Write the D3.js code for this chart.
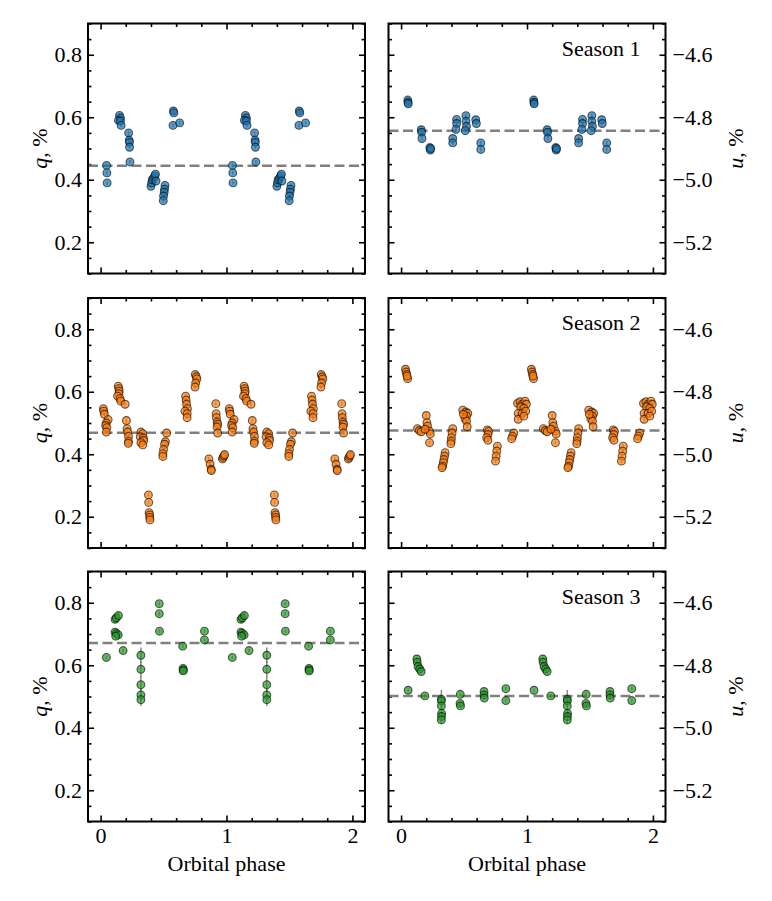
<!DOCTYPE html>
<html>
<head>
<meta charset="utf-8">
<script src="https://cdn.jsdelivr.net/npm/d3@7"></script>
<style>
  body { margin: 0; background: #fff; }
  text { font-family: "Liberation Serif", "Times New Roman", serif; }
</style>
</head>
<body>
<svg id="svg" width="772" height="901"></svg>
<script>
// [phase, value, (error)] for one orbital cycle, every point is drawn twice (phase, phase + 1)
const season1Q = [
  [0.047, 0.446], [0.05, 0.422], [0.052, 0.39],
  [0.15, 0.606], [0.158, 0.598], [0.142, 0.59], [0.158, 0.588], [0.163, 0.574],
  [0.223, 0.55], [0.227, 0.527], [0.229, 0.52], [0.23, 0.504], [0.233, 0.457],
  [0.40, 0.379], [0.405, 0.39], [0.41, 0.40], [0.42, 0.405], [0.43, 0.412], [0.436, 0.418], [0.44, 0.396],
  [0.512, 0.382], [0.508, 0.37], [0.505, 0.36], [0.5, 0.348], [0.498, 0.333],
  [0.578, 0.62], [0.582, 0.614], [0.575, 0.574], [0.628, 0.582]
]
const season1U = [
  [0.053, -4.745], [0.055, -4.752], [0.057, -4.757],
  [0.16, -4.84], [0.163, -4.848], [0.166, -4.868],
  [0.228, -4.897], [0.232, -4.905], [0.235, -4.9],
  [0.41, -4.868], [0.41, -4.882],
  [0.441, -4.807], [0.441, -4.82], [0.436, -4.839],
  [0.515, -4.795], [0.515, -4.813], [0.52, -4.829], [0.51, -4.843],
  [0.593, -4.808], [0.598, -4.82],
  [0.633, -4.882], [0.633, -4.903]
]
const season2Q = [
  [0.022, 0.546], [0.025, 0.538], [0.03, 0.528], [0.06, 0.511], [0.045, 0.50], [0.04, 0.492], [0.05, 0.485], [0.045, 0.471],
  [0.14, 0.618], [0.145, 0.61], [0.148, 0.602], [0.146, 0.594], [0.135, 0.586], [0.155, 0.578], [0.16, 0.57], [0.195, 0.56],
  [0.205, 0.508], [0.21, 0.482], [0.215, 0.471], [0.222, 0.457], [0.222, 0.442], [0.22, 0.435],
  [0.32, 0.471], [0.335, 0.466], [0.315, 0.456], [0.34, 0.452], [0.342, 0.444], [0.32, 0.437], [0.335, 0.43],
  [0.38, 0.27], [0.382, 0.246], [0.385, 0.213], [0.39, 0.206], [0.39, 0.198], [0.392, 0.19],
  [0.525, 0.468], [0.515, 0.44], [0.508, 0.432], [0.5, 0.415], [0.495, 0.402], [0.495, 0.393],
  [0.675, 0.586], [0.68, 0.573], [0.683, 0.56], [0.69, 0.546], [0.67, 0.538], [0.688, 0.53], [0.687, 0.517],
  [0.752, 0.655], [0.76, 0.648], [0.765, 0.641], [0.755, 0.628], [0.75, 0.615],
  [0.86, 0.385], [0.87, 0.368], [0.878, 0.352], [0.88, 0.348],
  [0.915, 0.562], [0.918, 0.53], [0.92, 0.517], [0.925, 0.503], [0.93, 0.496], [0.925, 0.487], [0.93, 0.468],
  [0.968, 0.385], [0.973, 0.39], [0.98, 0.395], [0.985, 0.399]
]
const season2U = [
  [0.035, -4.728], [0.04, -4.737], [0.045, -4.745], [0.052, -4.758], [0.048, -4.75],
  [0.13, -4.918], [0.145, -4.924], [0.16, -4.928], [0.2, -4.876], [0.205, -4.899], [0.21, -4.91],
  [0.225, -4.926], [0.232, -4.935], [0.226, -4.963], [0.19, -4.92],
  [0.35, -4.995], [0.345, -5.006], [0.34, -5.017], [0.335, -5.027], [0.33, -5.038], [0.325, -5.043],
  [0.41, -4.918], [0.405, -4.932], [0.4, -4.947], [0.398, -4.958], [0.395, -4.966],
  [0.49, -4.859], [0.515, -4.865], [0.53, -4.869], [0.52, -4.878], [0.507, -4.886], [0.52, -4.894], [0.525, -4.912], [0.495, -4.872],
  [0.685, -4.922], [0.695, -4.927], [0.69, -4.937], [0.68, -4.947], [0.69, -4.955],
  [0.765, -4.974], [0.76, -4.99], [0.755, -5.006], [0.75, -5.022],
  [0.895, -4.932], [0.885, -4.942], [0.878, -4.95],
  [0.925, -4.837], [0.945, -4.832], [0.962, -4.84], [0.985, -4.83], [0.995, -4.84], [0.95, -4.848],
  [0.975, -4.853], [0.93, -4.869], [0.962, -4.869], [0.99, -4.862], [0.93, -4.888], [0.975, -4.878]
]
const season3Q = [
  [0.046, 0.625],
  [0.115, 0.747, 0.012], [0.125, 0.752], [0.142, 0.759, 0.012], [0.115, 0.706], [0.125, 0.702], [0.14, 0.697], [0.12, 0.693],
  [0.179, 0.647],
  [0.32, 0.632, 0.025], [0.32, 0.587, 0.025], [0.32, 0.538, 0.025], [0.32, 0.505, 0.02], [0.32, 0.49, 0.02],
  [0.466, 0.797], [0.466, 0.765], [0.468, 0.709],
  [0.652, 0.661], [0.655, 0.59], [0.657, 0.585], [0.656, 0.582],
  [0.825, 0.709], [0.825, 0.681]
]
const season3U = [
  [0.056, -4.88],
  [0.125, -4.78], [0.128, -4.79], [0.135, -4.804], [0.148, -4.812], [0.16, -4.82],
  [0.189, -4.898],
  [0.32, -4.909, 0.03], [0.32, -4.914, 0.012], [0.32, -4.93, 0.012], [0.322, -4.954, 0.012], [0.321, -4.964, 0.012], [0.32, -4.975, 0.012],
  [0.47, -4.893], [0.468, -4.922], [0.472, -4.93],
  [0.659, -4.884], [0.659, -4.895], [0.661, -4.905],
  [0.832, -4.875], [0.832, -4.913]
]

const qMean = [0.445, 0.469, 0.671]
const uMean = [-4.843, -4.924, -4.898]
const seasonNames = ['Season 1', 'Season 2', 'Season 3']
const seasonColors = ['#1f77b4', '#ff7f0e', '#2a9a2a']

const xTicks = [0, 1, 2]
const qTicks = [0.2, 0.4, 0.6, 0.8]
const uTicks = [-4.6, -4.8, -5.0, -5.2]

const qData = [season1Q, season2Q, season3Q]
const uData = [season1U, season2U, season3U]
const cycles = [0, 1]
const defaultErr = 0.006

const W = 277
const H = 250
const colX = [88, 388.5]
const rowY = [23.5, 298, 571.5]
const fontSize = 22

let svg = d3.select('#svg')

let x = d3.scaleLinear().domain([-0.1, 2.1]).range([0, W])
let yq = d3.scaleLinear().domain([0.1, 0.9]).range([H, 0])
let yu = d3.scaleLinear().domain([-5.3, -4.5]).range([H, 0])

let minorX = d3.range(-0.0, 2.01, 0.2).filter(v => Math.abs(v - Math.round(v)) > 1e-6)
let minorQ = d3.range(0.1, 0.901, 0.05).filter(v => !qTicks.some(t => Math.abs(t - v) < 1e-6))
let minorU = d3.range(-5.3, -4.499, 0.05).filter(v => !uTicks.some(t => Math.abs(t - v) < 1e-6))

let fmtMinus = d => d3.format('.1f')(d).replace('-', '\u2212')

function tickAxis(g, axis) {
  g.call(axis)
  g.select('.domain').remove()
  g.selectAll('.tick line').attr('stroke', '#000').attr('stroke-width', 1.6)
  g.selectAll('.tick text')
    .attr('font-family', '"Liberation Serif", "Times New Roman", serif')
    .attr('font-size', fontSize)
    .attr('fill', '#000')
  g.attr('font-family', null).attr('font-size', null)
}

function drawPanel(row, col) {
  let y = col === 0 ? yq : yu
  let data = col === 0 ? qData[row] : uData[row]
  let mean = col === 0 ? qMean[row] : uMean[row]
  let color = seasonColors[row]
  let majorY = col === 0 ? qTicks : uTicks
  let minorY = col === 0 ? minorQ : minorU

  let g = svg.append('g').attr('transform', `translate(${colX[col]},${rowY[row]})`)

  // ticks on all four sides, pointing inward
  let showX = row === 2
  tickAxis(g.append('g').attr('transform', `translate(0,${H})`),
    d3.axisBottom(x).tickValues(xTicks).tickSize(-6).tickPadding(6).tickFormat(showX ? d3.format('d') : ''))
  tickAxis(g.append('g').attr('transform', `translate(0,${H})`),
    d3.axisBottom(x).tickValues(minorX).tickSize(-3.5).tickFormat(''))
  tickAxis(g.append('g'), d3.axisTop(x).tickValues(xTicks).tickSize(-6).tickFormat(''))
  tickAxis(g.append('g'), d3.axisTop(x).tickValues(minorX).tickSize(-3.5).tickFormat(''))

  if (col === 0) {
    tickAxis(g.append('g'), d3.axisLeft(y).tickValues(majorY).tickSize(-6).tickPadding(6).tickFormat(d3.format('.1f')))
    tickAxis(g.append('g').attr('transform', `translate(${W},0)`), d3.axisRight(y).tickValues(majorY).tickSize(-6).tickFormat(''))
  } else {
    tickAxis(g.append('g'), d3.axisLeft(y).tickValues(majorY).tickSize(-6).tickFormat(''))
    tickAxis(g.append('g').attr('transform', `translate(${W},0)`), d3.axisRight(y).tickValues(majorY).tickSize(-6).tickPadding(7).tickFormat(fmtMinus))
  }
  tickAxis(g.append('g'), d3.axisLeft(y).tickValues(minorY).tickSize(-3.5).tickFormat(''))
  tickAxis(g.append('g').attr('transform', `translate(${W},0)`), d3.axisRight(y).tickValues(minorY).tickSize(-3.5).tickFormat(''))

  // mean level
  g.append('line')
    .attr('x1', 0).attr('x2', W)
    .attr('y1', y(mean)).attr('y2', y(mean))
    .attr('stroke', '#808080')
    .attr('stroke-width', 2.5)
    .attr('stroke-dasharray', '10,4.5')

  let points = []
  cycles.forEach(c => data.forEach(d => points.push({ phase: d[0] + c, value: d[1], err: d[2] || defaultErr })))

  g.selectAll('line.err')
    .data(points)
    .enter()
    .append('line')
    .attr('class', 'err')
    .attr('x1', d => x(d.phase)).attr('x2', d => x(d.phase))
    .attr('y1', d => y(d.value - d.err)).attr('y2', d => y(d.value + d.err))
    .attr('stroke', '#555')
    .attr('stroke-opacity', 0.7)
    .attr('stroke-width', 1.5)

  g.selectAll('circle')
    .data(points)
    .enter()
    .append('circle')
    .attr('cx', d => x(d.phase))
    .attr('cy', d => y(d.value))
    .attr('r', 3.9)
    .attr('fill', color)
    .attr('fill-opacity', 0.72)
    .attr('stroke', '#000')
    .attr('stroke-opacity', 0.6)
    .attr('stroke-width', 1.1)

  // frame
  g.append('rect')
    .attr('width', W).attr('height', H)
    .attr('fill', 'none')
    .attr('stroke', '#000')
    .attr('stroke-width', 2)

  if (col === 1) {
    g.append('text')
      .attr('x', W - 25).attr('y', 32)
      .attr('text-anchor', 'end')
      .attr('font-size', fontSize)
      .text(seasonNames[row])
  }

  // axis label
  let lx = col === 0 ? -41 : W + 77
  let label = g.append('text')
    .attr('transform', `translate(${lx},${H / 2}) rotate(-90)`)
    .attr('text-anchor', 'middle')
    .attr('font-size', fontSize)
  label.append('tspan').attr('font-style', 'italic').text(col === 0 ? 'q' : 'u')
  label.append('tspan').text(', %')

  if (showX) {
    g.append('text')
      .attr('x', W / 2).attr('y', H + 49)
      .attr('text-anchor', 'middle')
      .attr('font-size', fontSize)
      .text('Orbital phase')
  }
}

for (let r = 0; r < 3; r++) {
  drawPanel(r, 0)
  drawPanel(r, 1)
}
</script>
</body>
</html>
